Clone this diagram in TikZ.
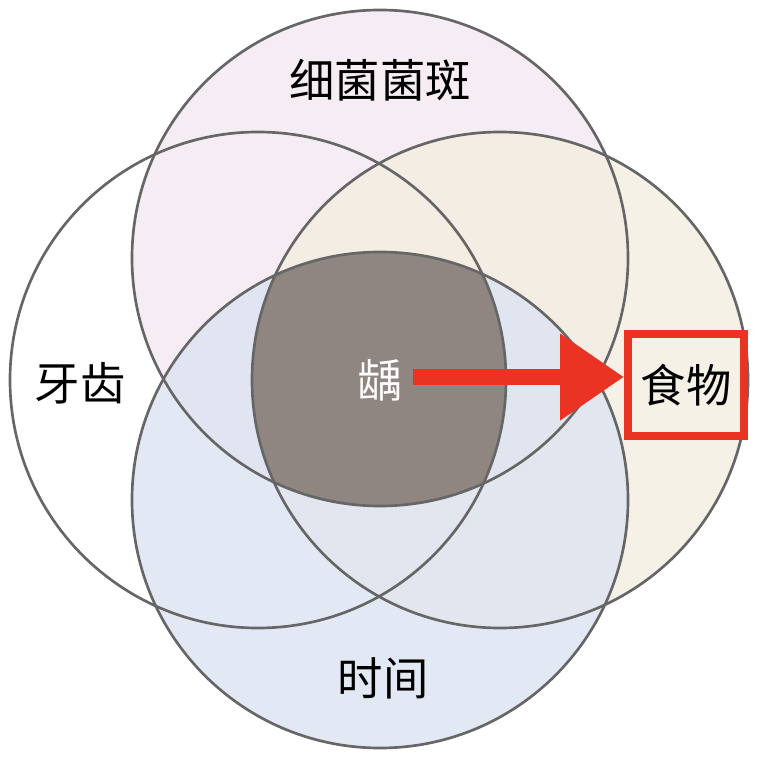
\documentclass[tikz,border=0pt]{standalone}
\usepackage{fontspec}
\newfontfamily\cjk{Noto Sans CJK SC}
\usetikzlibrary{arrows.meta}
\definecolor{topc}{HTML}{F3E9F0}
\definecolor{rightc}{HTML}{F4EDDF}
\definecolor{botc}{HTML}{DCE4F2}
\definecolor{midc}{HTML}{8F8682}
\definecolor{redc}{HTML}{EA3323}
\begin{document}
\begin{tikzpicture}[x=0.75pt,y=-0.75pt,
  circ/.style={draw=black!60,line width=2pt},
  lbl/.style={font=\cjk\fontsize{34}{38}\selectfont}]
\useasboundingbox (0,0) rectangle (764,762);
\fill[white] (0,0) rectangle (764,762);
\fill[topc,fill opacity=0.8] (380,258) circle (248);
\fill[rightc,fill opacity=0.75] (500,380) circle (248);
\fill[botc,fill opacity=0.8] (380,500) circle (248);
\begin{scope}
\clip (258,380) circle (248);
\clip (380,258) circle (248);
\clip (500,380) circle (248);
\fill[midc] (380,500) circle (248);
\end{scope}
\draw[circ] (258,380) circle (248);
\draw[circ] (380,258) circle (248);
\draw[circ] (500,380) circle (248);
\draw[circ] (380,500) circle (248);
\node[lbl] (t) at (380,80) {细菌菌斑};
\node[lbl] (l) at (80,383) {牙齿};
\node[lbl] (b) at (383,678) {时间};
\node[lbl,white] (c) at (380,380) {龋};
\node[lbl,draw=redc,line width=6pt,inner sep=0pt,minimum width=87pt,minimum height=76pt] (f) at (686,385) {食物};
\draw[redc,line width=12pt,-{Triangle[length=48pt,width=62pt]}] (c.east)++(6,-3) coordinate (s) (s) -- (f.west|-s);
\end{tikzpicture}
\end{document}
